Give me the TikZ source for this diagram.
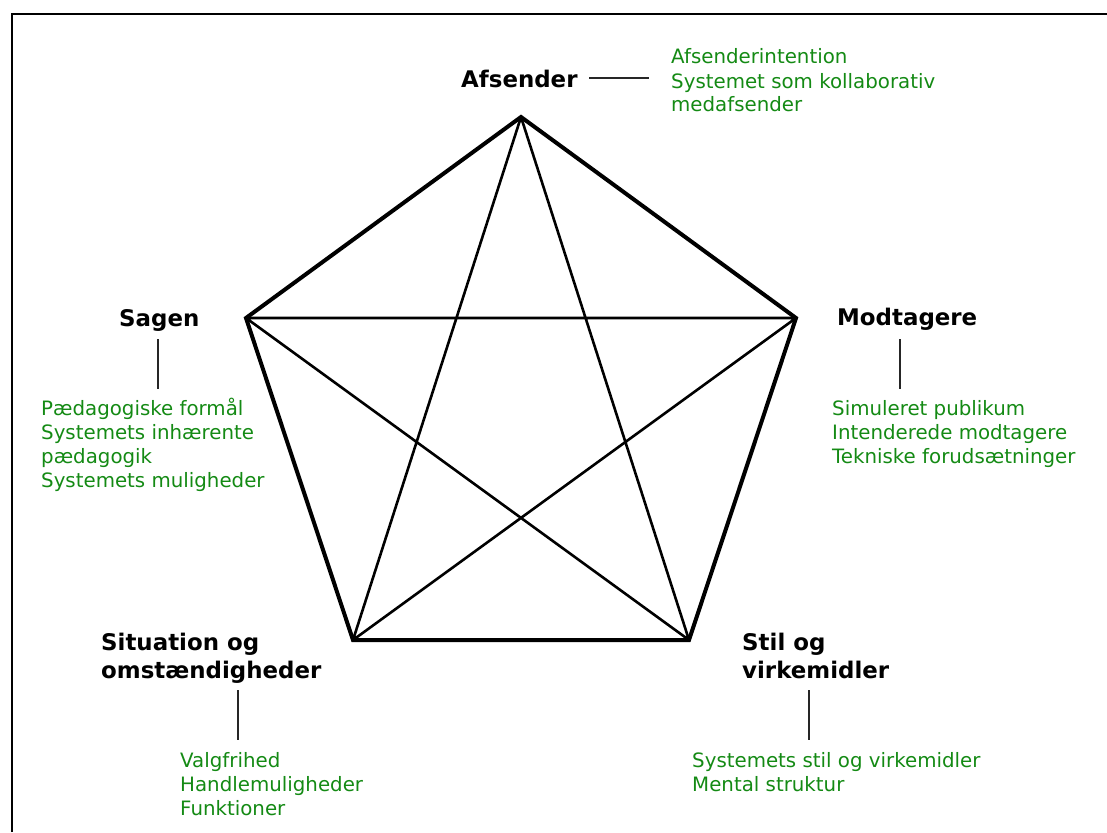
\documentclass[tikz,border=0pt]{standalone}
\usepackage{fontspec}
\setmainfont{DejaVu Sans}
\definecolor{infogreen}{RGB}{20,138,20}
\begin{document}
\begin{tikzpicture}[x=1pt,y=-1pt,
  head/.style={font=\fontsize{22.9}{28}\selectfont\bfseries, inner sep=0, anchor=base west, align=left},
  info/.style={font=\fontsize{19.8}{24}\selectfont, text=infogreen, inner sep=0, anchor=base west, align=left},
  outer/.style={line width=4pt, line join=miter},
  diag/.style={line width=2.6pt},
  tick/.style={line width=1.1pt, draw=black!85},
  frame/.style={line width=2.8pt, line join=miter}]
\useasboundingbox (0,0) rectangle (1107,832);
% frame
\coordinate (fb) at (12,832);
\coordinate (fc) at (12,14);
\coordinate (fr) at (1107,14);
\draw[frame] (fb) -- (fc) -- (fr);
% pentagon
\coordinate (T) at (521,117);
\coordinate (L) at (246,318);
\coordinate (R) at (796,318);
\coordinate (BL) at (353,640);
\coordinate (BR) at (689,640);
\draw[diag] (T) -- (BL) (T) -- (BR) (L) -- (R) (L) -- (BR) (R) -- (BL);
\draw[outer] (T) -- (R) -- (BR) -- (BL) -- (L) -- cycle;
% Afsender (multi-line nodes: base anchor is on the last line)
\node[head] (afs) at (461,88) {Afsender};
\node[info] (afsinfo) at (671,112) {Afsenderintention\\Systemet som kollaborativ\\medafsender};
\coordinate (a1) at (589,78);
\coordinate (a2) at (649,78);
\draw[tick] (a1) -- (a2);
% Sagen
\node[head] (sag) at (119,326) {Sagen};
\node[info] (saginfo) at (41,487) {Pædagogiske formål\\Systemets inhærente\\pædagogik\\Systemets muligheder};
\coordinate (s1) at (158,339);
\coordinate (s2) at (158,389);
\draw[tick] (s1) -- (s2);
% Modtagere
\node[head] (mod) at (837,325) {Modtagere};
\node[info] (modinfo) at (832,463) {Simuleret publikum\\Intenderede modtagere\\Tekniske forudsætninger};
\coordinate (m1) at (900,339);
\coordinate (m2) at (900,389);
\draw[tick] (m1) -- (m2);
% Situation
\node[head] (sit) at (101,678) {Situation og\\omstændigheder};
\node[info] (sitinfo) at (180,815) {Valgfrihed\\Handlemuligheder\\Funktioner};
\coordinate (t1) at (238,690);
\coordinate (t2) at (238,740);
\draw[tick] (t1) -- (t2);
% Stil
\node[head] (stil) at (742,678) {Stil og\\virkemidler};
\node[info] (stilinfo) at (692,791) {Systemets stil og virkemidler\\Mental struktur};
\coordinate (v1) at (809,690);
\coordinate (v2) at (809,740);
\draw[tick] (v1) -- (v2);
\end{tikzpicture}
\end{document}
